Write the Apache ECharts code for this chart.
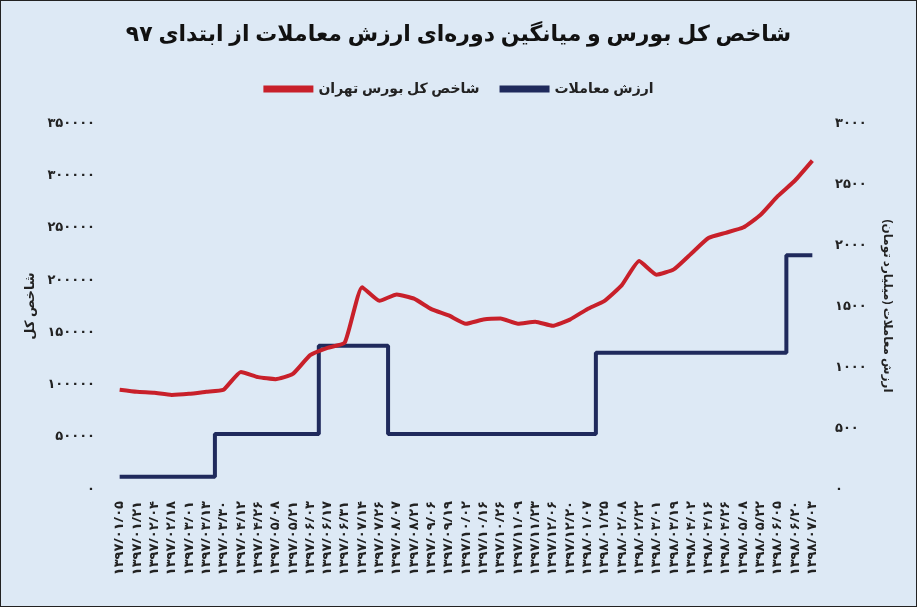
<!DOCTYPE html>
<html><head><meta charset="utf-8">
<script src="https://cdn.jsdelivr.net/npm/echarts@6/dist/echarts.min.js"></script>
<style>html,body{margin:0;padding:0;background:#dfeaf6}#c{width:915px;height:605px;border:1px solid #222;}</style>
</head><body><div id="c"></div>
<script>
const categories = ['1397/01/05','1397/01/21','1397/02/04','1397/02/18','1397/03/01','1397/03/13','1397/03/30','1397/04/12','1397/04/26','1397/05/08','1397/05/21','1397/06/03','1397/06/17','1397/06/31','1397/07/14','1397/07/26','1397/08/07','1397/08/21','1397/09/06','1397/09/19','1397/10/02','1397/10/16','1397/10/26','1397/11/09','1397/11/23','1397/12/06','1397/12/20','1398/01/07','1398/01/25','1398/02/08','1398/02/22','1398/03/01','1398/03/19','1398/04/02','1398/04/16','1398/04/26','1398/05/08','1398/05/22','1398/06/05','1398/06/20','1398/07/03'];
const indexValues = [95000,93000,92000,90000,91000,93000,95000,112000,107000,105000,110000,128000,135000,140000,193000,180000,186000,182000,172000,166000,158000,162000,163000,158000,160000,156000,162000,172000,180000,195000,218000,205000,210000,225000,240000,245000,250000,262000,280000,295000,314000];
const tradeValues = [100,100,100,100,100,100,450,450,450,450,450,450,1175,1175,1175,1175,450,450,450,450,450,450,450,450,450,450,450,450,1117,1117,1117,1117,1117,1117,1117,1117,1117,1117,1117,1915,1915];
const fa = s => String(s).replace(/\d/g, d => '۰۱۲۳۴۵۶۷۸۹'[d]);
const font = '"Noto Sans", "DejaVu Sans", sans-serif';
const chart = echarts.init(document.getElementById('c'));
chart.setOption({
  backgroundColor:'#dde9f5',
  textStyle:{fontFamily:font},
  title:{text:'شاخص کل بورس و میانگین دوره‌ای ارزش معاملات از ابتدای ۹۷',left:'center',top:18,textStyle:{fontSize:22,fontWeight:'bold',color:'#111',fontFamily:font}},
  legend:{top:76,left:'center',itemWidth:50,itemHeight:7,itemGap:20,textStyle:{fontSize:14,fontWeight:'bold',color:'#222'},
    data:[{name:'شاخص کل بورس تهران',icon:'rect'},{name:'ارزش معاملات',icon:'rect'}]},
  grid:{left:110,right:95,top:122,bottom:117},
  xAxis:{type:'category',data:categories,boundaryGap:true,
    axisLine:{show:false},axisTick:{show:false},
    axisLabel:{rotate:90,interval:0,fontSize:13,fontWeight:'bold',color:'#222',margin:12,formatter:v=>fa(v)}},
  yAxis:[
    {type:'value',min:0,max:350000,interval:50000,name:'شاخص کل',nameLocation:'middle',nameGap:72,nameRotate:90,
     nameTextStyle:{fontSize:13,fontWeight:'bold',color:'#222'},
     axisLabel:{fontSize:13,fontWeight:'bold',color:'#222',margin:16,formatter:v=>fa(v)},
     splitLine:{show:false},axisLine:{show:false}},
    {type:'value',min:0,max:3000,interval:500,name:'ارزش معاملات (میلیارد تومان)',nameLocation:'middle',nameGap:60,nameRotate:-90,
     nameTextStyle:{fontSize:12,fontWeight:'bold',color:'#222'},
     axisLabel:{fontSize:13,fontWeight:'bold',color:'#222',margin:14,formatter:v=>fa(v)},
     splitLine:{show:false},axisLine:{show:false}}
  ],
  series:[
    {name:'شاخص کل بورس تهران',type:'line',data:indexValues,yAxisIndex:0,symbol:'none',smooth:0.15,
     lineStyle:{color:'#c8202a',width:4},itemStyle:{color:'#c8202a'},z:3},
    {name:'ارزش معاملات',type:'line',data:tradeValues,yAxisIndex:1,symbol:'none',step:'middle',
     lineStyle:{color:'#1f2a5c',width:4},itemStyle:{color:'#1f2a5c'},z:2}
  ]
});
</script></body></html>
